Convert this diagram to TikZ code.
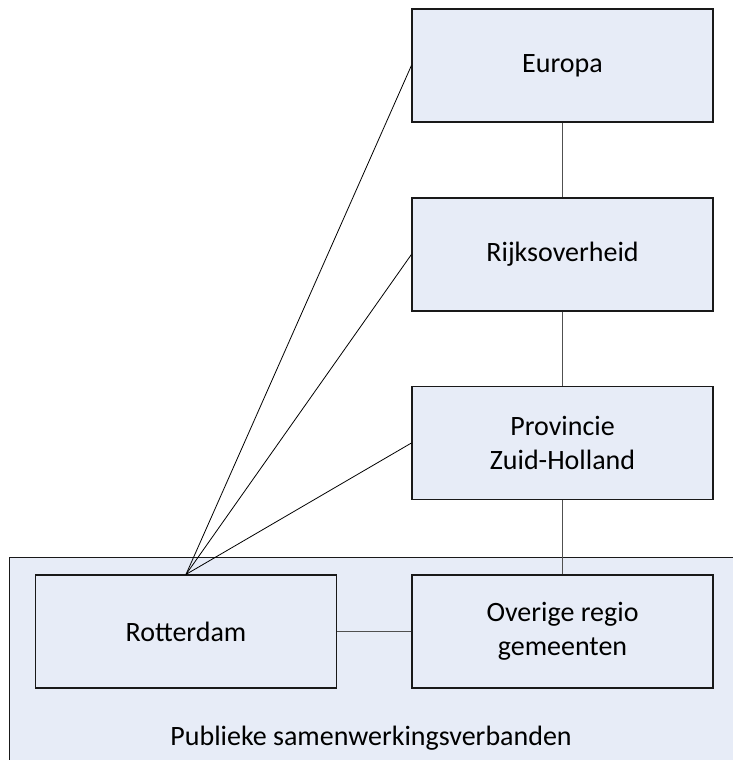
\documentclass[tikz,border=0pt]{standalone}
\usepackage{fontspec}
\setmainfont{Carlito}
\definecolor{boxfill}{RGB}{231,236,247}
\definecolor{linkgray}{RGB}{80,80,80}
\tikzset{
  orgbox/.style={draw=black!90, line width=1.2pt, fill=boxfill,
    minimum width=301pt, minimum height=113pt, inner sep=0pt,
    align=center, font=\fontsize{28}{34}\selectfont},
  tree/.style={draw=linkgray, line width=1.2pt},
  fan/.style={draw=black, line width=0.8pt}
}
\begin{document}
\begin{tikzpicture}[x=1pt, y=-1pt]
  \clip (0,0) rectangle (733,760);
  \fill[white] (0,0) rectangle (733,760);
  % shared region for the cooperating bodies
  \node[draw=black!90, line width=1.2pt, fill=boxfill, anchor=north west,
        minimum width=760pt, minimum height=230pt, inner sep=0pt] (pub) at (9,557) {};
  \node[anchor=base, font=\fontsize{28}{34}\selectfont] (publabel) at (371,745)
        {Publieke samenwerkingsverbanden};
  % boxes
  \node[orgbox] (eu)   at (562.5,65.5)  {Europa};
  \node[orgbox] (rijk) at (562.5,254.5) {Rijksoverheid};
  \node[orgbox] (prov) at (562.5,443)   {Provincie\\Zuid-Holland};
  \node[orgbox] (rot)  at (186,631.5)   {Rotterdam};
  \node[orgbox] (ov)   at (562.5,631.5) {Overige regio\\gemeenten};
  % hierarchy links
  \draw[tree] (eu.south) -- (rijk.north);
  \draw[tree] (rijk.south) -- (prov.north);
  \draw[tree] (prov.south) -- (ov.north);
  \draw[tree] (rot.east) -- (ov.west);
  % direct links from Rotterdam
  \draw[fan] (rot.north) -- (eu.west);
  \draw[fan] (rot.north) -- (rijk.west);
  \draw[fan] (rot.north) -- (prov.west);
\end{tikzpicture}
\end{document}
